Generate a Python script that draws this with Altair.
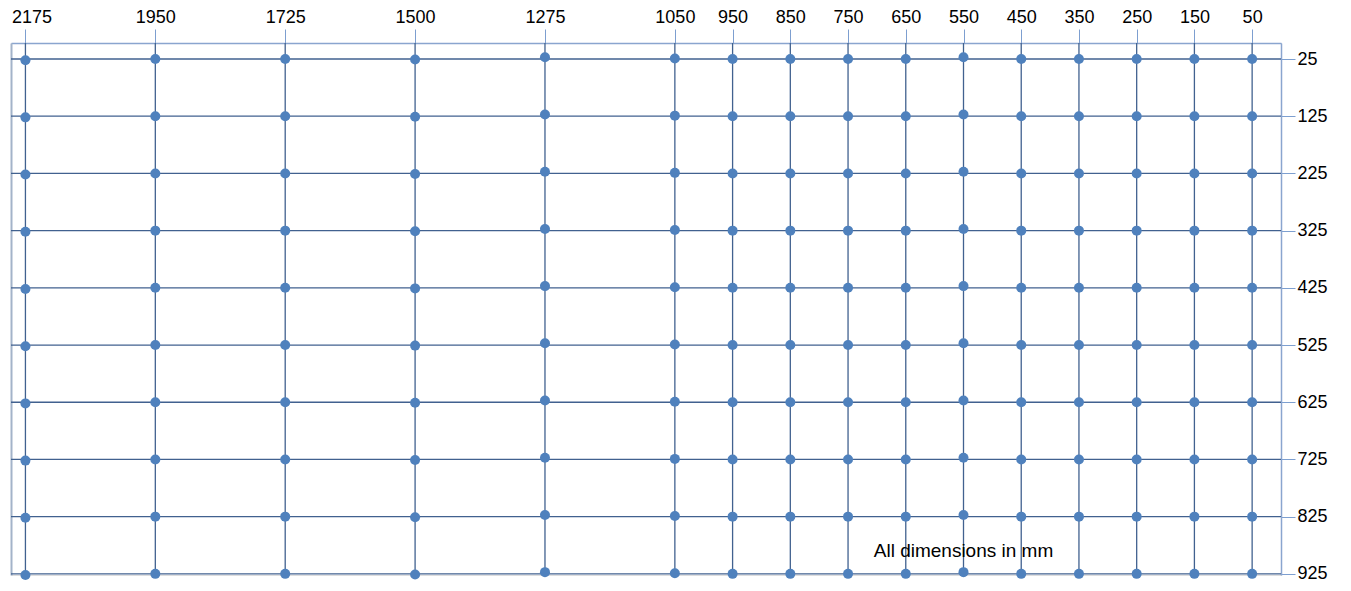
import altair as alt
import pandas as pd

# Nominal grid positions (mm)
x_ticks = [2175, 1950, 1725, 1500, 1275, 1050, 950, 850, 750, 650, 550, 450, 350, 250, 150, 50]
y_ticks = [25, 125, 225, 325, 425, 525, 625, 725, 825, 925]
col_dy = [2, 0, 0, 1, -3, -1, 0, 0, 0, 0, -3, 0, 0, 0, 0, 0]

note_text = ["All dimensions in mm"]
note_x = [550]
note_y = [885]

pts = pd.DataFrame([{"x": x, "y": y + d} for x, d in zip(x_ticks, col_dy) for y in y_ticks])
note = pd.DataFrame({"x": note_x, "y": note_y, "t": note_text})
vlines = pd.DataFrame({"x": x_ticks})
hlines = pd.DataFrame({"y": y_ticks})

FONT = "Liberation Sans"
GRID = "#41618f"
TICK = "#7d9fd0"
DOMAIN = "#8aa5cf"

xs = alt.Scale(domain=[2200, 0], nice=False, zero=False)
ys = alt.Scale(domain=[927, -3], nice=False, zero=False)

x_axis = alt.Axis(orient="top", values=x_ticks, format="d", grid=False,
                  tickColor=TICK, tickSize=14, tickWidth=1, domainColor=DOMAIN, domainWidth=1.5,
                  labelFont=FONT, labelFontSize=18, labelColor="black", labelPadding=3,
                  labelFlush=False, labelOverlap=False, title=None, zindex=0,
                  labelOffset={"condition": {"test": "datum.value == 2175", "value": 6}, "value": 0})
y_axis = alt.Axis(orient="right", values=y_ticks, format="d", grid=False,
                  tickColor=TICK, tickSize=14, tickWidth=1, domainColor=DOMAIN, domainWidth=1.5,
                  labelFont=FONT, labelFontSize=18, labelColor="black", labelPadding=2,
                  labelOverlap=False, labelAlign="left", labelBaseline="middle", title=None, zindex=0)
y_left = alt.Axis(orient="left", values=y_ticks, grid=False, ticks=False, labels=False,
                  domainColor="#a3b3c9", domainWidth=2, title=None, zindex=0)

vgrid = alt.Chart(vlines).mark_rule(color=GRID, strokeWidth=1.3).encode(
    x=alt.X("x:Q", scale=xs, axis=x_axis),
)
hgrid = alt.Chart(hlines).mark_rule(color=GRID, strokeWidth=1.3).encode(
    y=alt.Y("y:Q", scale=ys, axis=y_left),
)

points = alt.Chart(pts).mark_circle(size=100, color="#4f81bd", opacity=1).encode(
    x=alt.X("x:Q", scale=xs, axis=x_axis),
    y=alt.Y("y:Q", scale=ys, axis=y_axis),
)

label = alt.Chart(note).mark_text(font=FONT, fontSize=19, color="black", align="center",
                                   baseline="middle").encode(
    x=alt.X("x:Q", scale=xs, axis=x_axis),
    y=alt.Y("y:Q", scale=ys, axis=None),
    text="t:N",
)

chart = alt.layer(vgrid, hgrid, points, label).resolve_axis(y="independent").properties(
    width=1270, height=532,
    padding={"left": 3, "top": 35, "right": 60, "bottom": 8},
    autosize=alt.AutoSizeParams(type="none"),
).configure_view(stroke=None).configure(background="white")

chart.save("out.html", embed_options={"renderer": "svg", "actions": False})
